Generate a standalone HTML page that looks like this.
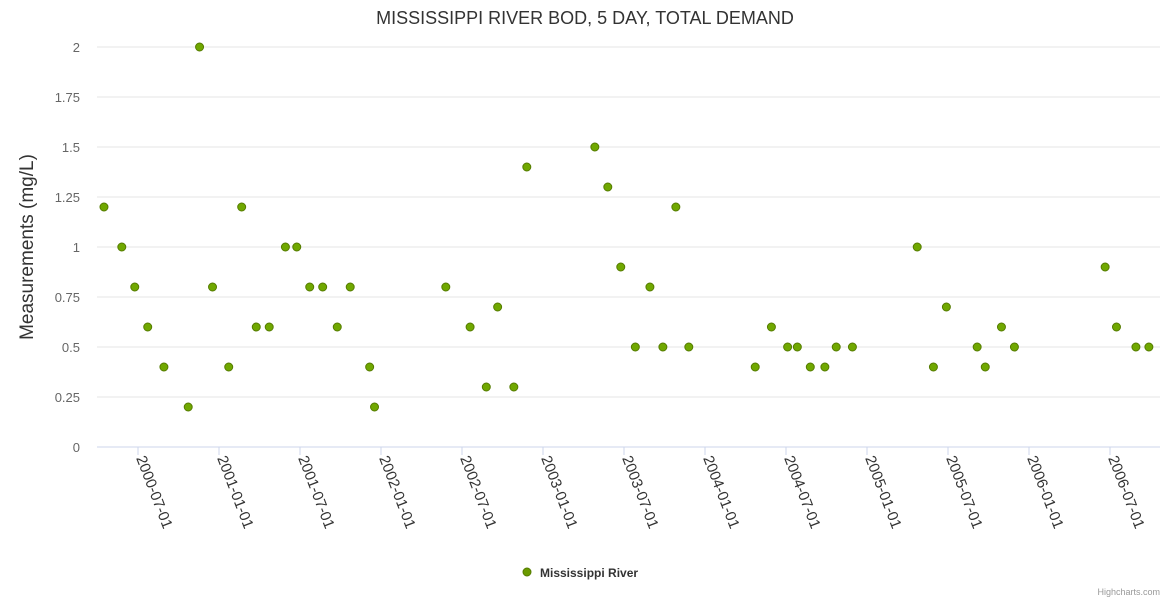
<!DOCTYPE html>
<html><head><meta charset="utf-8"><style>
body{margin:0;background:#fff;}
svg text{font-family:"Liberation Sans","DejaVu Sans",sans-serif;}
</style></head><body>
<svg id="chart" width="1170" height="600">
<rect width="1170" height="600" fill="#fff"/>
<text x="585" y="24" text-anchor="middle" font-size="18" fill="#333">MISSISSIPPI RIVER BOD, 5 DAY, TOTAL DEMAND</text>
<text transform="translate(33,247) rotate(-90)" text-anchor="middle" font-size="19" fill="#333">Measurements (mg/L)</text>
<g id="grid"></g><g id="xaxis"></g><g id="points"></g>
<g>
<circle cx="527" cy="572" r="4" fill="#6a9a00" stroke="#557b00" stroke-width="1"/>
<text x="540" y="577" font-size="12" font-weight="bold" fill="#333">Mississippi River</text>
</g>
<text x="1160" y="595" text-anchor="end" font-size="9" fill="#999">Highcharts.com</text>
</svg>
<script>
const yTicks=[0,0.25,0.5,0.75,1,1.25,1.5,1.75,2];
const yTickLabels=["0","0.25","0.5","0.75","1","1.25","1.5","1.75","2"];
const xTicks=[2000.5,2001,2001.5,2002,2002.5,2003,2003.5,2004,2004.5,2005,2005.5,2006,2006.5];
const xTickLabels=["2000-07-01","2001-01-01","2001-07-01","2002-01-01","2002-07-01","2003-01-01","2003-07-01","2004-01-01","2004-07-01","2005-01-01","2005-07-01","2006-01-01","2006-07-01"];
const dates=[2000.29,2000.40,2000.48,2000.56,2000.66,2000.81,2000.88,2000.96,2001.06,2001.14,2001.23,2001.31,2001.41,2001.48,2001.56,2001.64,2001.73,2001.81,2001.93,2001.96,2002.40,2002.55,2002.65,2002.72,2002.82,2002.90,2003.32,2003.40,2003.48,2003.57,2003.66,2003.74,2003.82,2003.90,2004.31,2004.41,2004.51,2004.57,2004.65,2004.74,2004.81,2004.91,2005.31,2005.41,2005.49,2005.68,2005.73,2005.83,2005.91,2006.47,2006.54,2006.66,2006.74];
const values=[1.2,1.0,0.8,0.6,0.4,0.2,2.0,0.8,0.4,1.2,0.6,0.6,1.0,1.0,0.8,0.8,0.6,0.8,0.4,0.2,0.8,0.6,0.3,0.7,0.3,1.4,1.5,1.3,0.9,0.5,0.8,0.5,1.2,0.5,0.4,0.6,0.5,0.5,0.4,0.4,0.5,0.5,1.0,0.4,0.7,0.5,0.4,0.6,0.5,0.9,0.6,0.5,0.5];
const NS="http://www.w3.org/2000/svg";
const L=97,R=1160,T=47,B=447;
const xs=d=>138+(d-2000.5)*162;
const ys=v=>B-(v/2)*(B-T);
function mk(tag,attrs,parent){const e=document.createElementNS(NS,tag);for(const k in attrs)e.setAttribute(k,attrs[k]);document.getElementById(parent).appendChild(e);return e;}
yTicks.forEach((v,i)=>{
  const l=mk('line',{x1:L,x2:R,y1:ys(v),y2:ys(v),stroke:v===0?'#ccd6eb':'#e6e6e6','stroke-width':1},'grid');
  
  
  const t=mk('text',{x:80,y:ys(v)+5,'text-anchor':'end','font-size':13,fill:'#666'},'grid');
  t.textContent=yTickLabels[i];
  
  
});
xTicks.forEach((d,i)=>{
  const x=xs(d);
  const tk=mk('line',{x1:x,x2:x,y1:B,y2:B+8,stroke:'#ccd6eb'},'xaxis');
  
  
  const t=mk('text',{x:0,y:0,transform:`translate(${x-2},${B+11}) rotate(69)`,'font-size':15,fill:'#333'},'xaxis');
  t.textContent=xTickLabels[i];
  
  
});
dates.forEach((d,i)=>{
  const c=mk('circle',{cx:xs(d),cy:ys(values[i]),r:4,fill:'#70a800',stroke:'#557b00','stroke-width':1},'points');
  
  
});
</script>
</body></html>
